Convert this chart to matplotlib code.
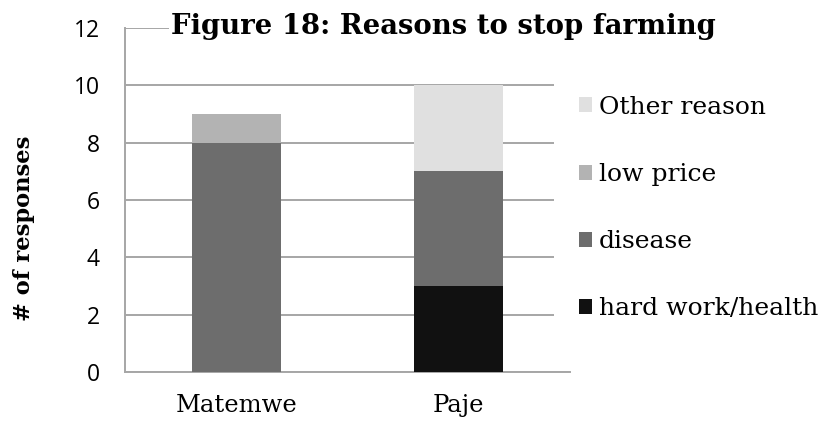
import matplotlib
matplotlib.use("Agg")
import matplotlib.pyplot as plt
from matplotlib.patches import Patch

# Responses by village, stacked by reason
villages = ["Matemwe", "Paje"]
hard_work = [0, 3]
disease = [8, 4]
low_price = [1, 0]
other_reason = [0, 3]

series = [
    ("hard work/health", hard_work, "#111111"),
    ("disease", disease, "#6d6d6d"),
    ("low price", low_price, "#b3b3b3"),
    ("Other reason", other_reason, "#e0e0e0"),
]

serif = ["DejaVu Serif"]
grid_color = "#a6a6a6"

fig = plt.figure(figsize=(8.25, 4.21), dpi=100)
ax = fig.add_axes([0.1515, 0.1164, 0.5394, 0.8171])

x = list(range(len(villages)))
bottom = [0] * len(villages)
for name, vals, color in series:
    ax.bar(x, vals, width=0.4, bottom=bottom, color=color, zorder=3)
    bottom = [b + v for b, v in zip(bottom, vals)]

ax.set_xlim(-0.5, 1.5)
ax.set_ylim(0, 12)
ax.set_yticks(range(0, 13, 2))
ax.yaxis.grid(True, color=grid_color, linewidth=1.4, zorder=0)
ax.set_axisbelow(True)
for side in ("top", "right"):
    ax.spines[side].set_visible(False)
for side in ("left", "bottom"):
    ax.spines[side].set_color(grid_color)
    ax.spines[side].set_linewidth(1.4)
ax.tick_params(axis="y", length=0, pad=18, labelsize=16.5)
ax.tick_params(axis="x", length=0, pad=16)
ax.set_xticks(x)
ax.set_xticklabels(villages, family=serif, fontsize=17.5)
for lbl in ax.get_yticklabels():
    lbl.set_family(["Open Sans"])

fig.text(0.029, 0.458, "# of responses", rotation=90, ha="center", va="center",
         family=serif, fontsize=16.3, fontweight="bold")

fig.text(0.538, 0.938, "Figure 18: Reasons to stop farming", ha="center", va="center",
         family=serif, fontsize=19.8, fontweight="bold",
         bbox=dict(facecolor="white", edgecolor="none", pad=2))

# white legend box sits over the right end of the gridlines
handles = [Patch(facecolor=c, edgecolor="none", label=n) for n, _, c in reversed(series)]
leg = fig.legend(handles=handles, loc="upper left", bbox_to_anchor=(0.671, 0.832),
                 frameon=True, facecolor="white", edgecolor="none", fancybox=False,
                 framealpha=1, prop={"family": serif, "size": 18},
                 handlelength=0.55, handleheight=0.55, handletextpad=0.25,
                 labelspacing=1.77, borderaxespad=0, borderpad=1.0)

fig.savefig("out.png", dpi=100)
